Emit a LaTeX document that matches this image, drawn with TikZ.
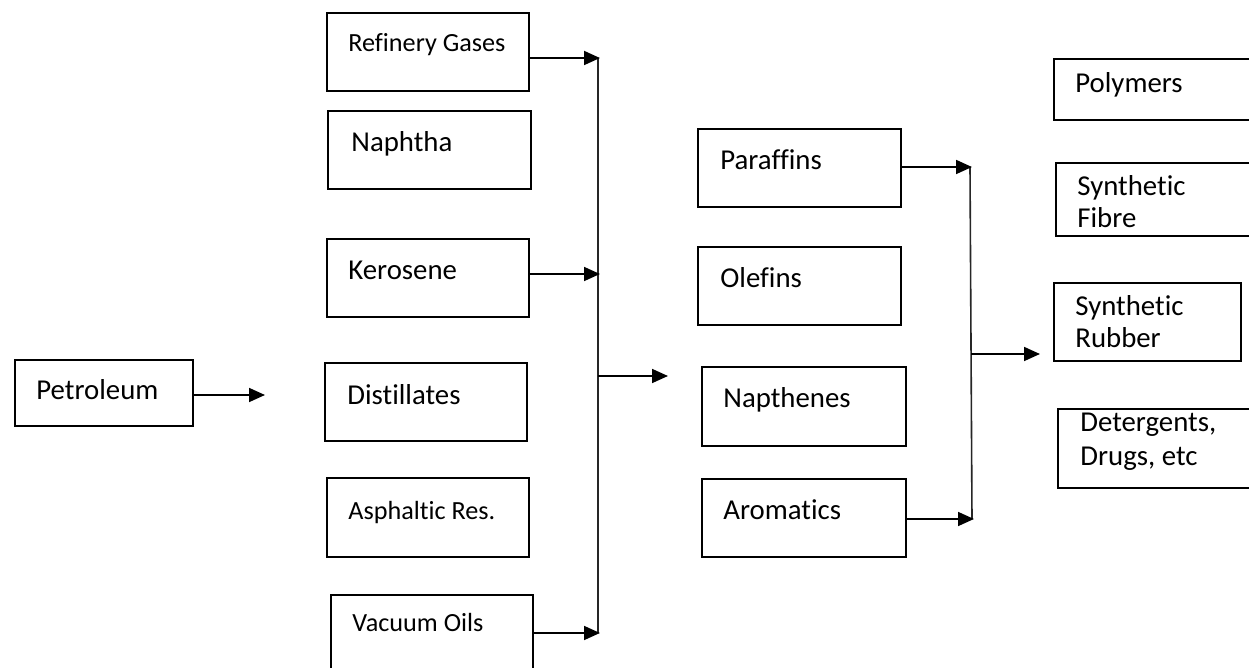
\documentclass[tikz,border=0pt]{standalone}
\usepackage{fontspec}
\setmainfont{Carlito}[Ligatures=CommonOff]
\usetikzlibrary{arrows.meta,fit}
\begin{document}
\begin{tikzpicture}[x=0.5pt,y=-0.5pt,
  box/.style={draw=black,line width=1pt,inner sep=0pt},
  lbl/.style={inner sep=0pt,anchor=base west,font=\fontsize{14.4}{16}\selectfont,align=left},
  slbl/.style={inner sep=0pt,anchor=base west,font=\fontsize{13.1}{16}\selectfont},
  bus/.style={line width=0.8pt,draw=black!85},
  arr/.style={line width=0.9pt,-{Triangle[length=8pt,width=7pt]}}]
\clip (0,0) rectangle (1249,668);
\fill[white] (0,0) rectangle (1249,668);
% column 1
\node[box,fit={(15,360) (193,426)}] (pet) {};
\node[lbl] (petT) at (36,400) {Petroleum};
\coordinate (petEnd) at (265,395);
\draw[arr] (pet.east |- petEnd) -- (petEnd);
% column 2
\node[box,fit={(327,13) (529,91)}] (rg) {};
\node[slbl] (rgT) at (348,52) {Refinery Gases};
\node[box,fit={(328,111) (531,189)}] (nap) {};
\node[lbl] (napT) at (351,152) {Naphtha};
\node[box,fit={(327,239) (529,317)}] (ker) {};
\node[lbl] (kerT) at (348,280) {Kerosene};
\node[box,fit={(325,363) (527,441)}] (dis) {};
\node[lbl] (disT) at (347,405) {Distillates};
\node[box,fit={(327,478) (529,557)}] (asp) {};
\node[slbl] (aspT) at (348,519) {Asphaltic Res.};
\node[box,fit={(331,595) (533,680)}] (vac) {};
\node[slbl] (vacT) at (352,632) {Vacuum Oils};
% bus 1
\coordinate (b1top) at (598,58);
\coordinate (b1ker) at (598,274);
\coordinate (b1mid) at (598,376);
\coordinate (b1bot) at (598,633);
\coordinate (b1out) at (668,376);
\draw[bus] (b1top) -- (b1bot);
\draw[arr] (rg.east |- b1top) -- ([xshift=1pt]b1top);
\draw[arr] (ker.east |- b1ker) -- ([xshift=1pt]b1ker);
\draw[arr] (vac.east |- b1bot) -- ([xshift=1pt]b1bot);
\draw[arr] (b1mid) -- (b1out);
% column 3
\node[box,fit={(698,129) (901,207)}] (par) {};
\node[lbl] (parT) at (720,170) {Paraffins};
\node[box,fit={(698,247) (901,325)}] (ole) {};
\node[lbl] (oleT) at (720,288) {Olefins};
\node[box,fit={(702,367) (906,446)}] (nph) {};
\node[lbl] (nphT) at (723,408) {Napthenes};
\node[box,fit={(702,479) (906,557)}] (aro) {};
\node[lbl] (aroT) at (723,519) {Aromatics};
% bus 2
\coordinate (b2top) at (970,167);
\coordinate (b2mid) at (971,354);
\coordinate (b2bot) at (972,519);
\coordinate (b2out) at (1040,354);
\draw[bus] (b2top) -- (b2bot);
\draw[arr] (par.east |- b2top) -- ([xshift=1pt]b2top);
\draw[arr] (aro.east |- b2bot) -- ([xshift=1pt]b2bot);
\draw[arr] (b2mid) -- (b2out);
% column 4
\node[box,fit={(1054,59) (1260,120)}] (pol) {};
\node[lbl] (polT) at (1075,93) {Polymers};
\node[box,fit={(1056,163) (1260,236)}] (fib) {};
\node[lbl] (fibT) at (1077,228) {Synthetic\\Fibre};
\node[box,fit={(1054,283) (1241,361)}] (rub) {};
\node[lbl] (rubT) at (1075,348) {Synthetic\\Rubber};
\node[box,fit={(1058,409) (1260,488)}] (det) {};
\node[lbl,font=\fontsize{14.4}{17}\selectfont] (detT) at (1080,466) {Detergents,\\Drugs, etc};
\end{tikzpicture}
\end{document}
